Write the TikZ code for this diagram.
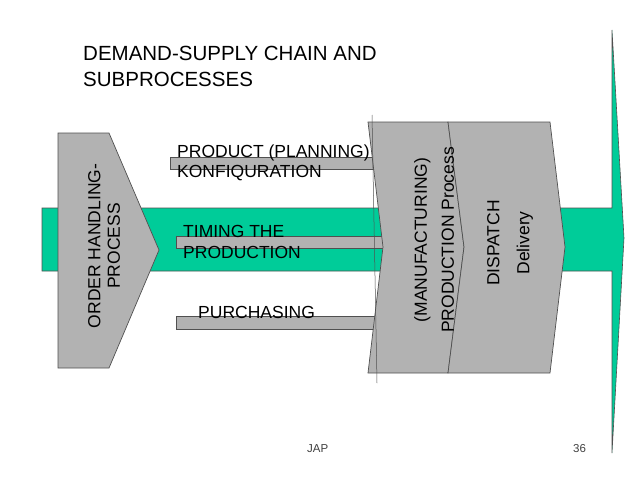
\documentclass[tikz,border=0pt]{standalone}
\usepackage{fontspec}
\setmainfont{Liberation Sans}
\usetikzlibrary{positioning}
\definecolor{flowgreen}{HTML}{00CC99}
\definecolor{procgray}{HTML}{B2B2B2}
\definecolor{edgegray}{HTML}{505050}
\tikzset{
    procbox/.style={fill=procgray, draw=edgegray, line width=0.7pt},
    barbox/.style={fill=procgray, draw=edgegray, line width=0.6pt},
    flowarrow/.style={fill=flowgreen, draw=edgegray, line width=0.6pt},
    lbl/.style={inner sep=0pt, font=\fontsize{17.5}{19.5}\selectfont, align=left},
    vlbl/.style={inner sep=0pt, rotate=90, align=center}
}
\begin{document}
\begin{tikzpicture}[x=1pt, y=-1pt]
                    \useasboundingbox (0, 0) rectangle (640, 480);
                    % main flow
                    \draw[flowarrow] (42, 208) -- (612, 208) -- (612, 30) -- (624, 238)
                        -- (612, 453) -- (612, 271) -- (42, 271) -- cycle;
                    % sub-process bars
                    \draw[barbox] (170, 157) rectangle (385, 169);
                    \draw[barbox] (176, 236) rectangle (385, 248);
                    \draw[barbox] (176, 316) rectangle (385, 329);
                    \node[lbl, anchor=base west] (product) at (177, 177) {PRODUCT (PLANNING)\\KONFIQURATION};
                    \node[lbl, anchor=base west, font=\fontsize{17.5}{20.5}\selectfont] (timing) at (183, 258) {TIMING THE\\PRODUCTION};
                    \node[lbl, anchor=base west] (purchasing) at (198, 318) {PURCHASING};
                    % order handling
                    \draw[procbox] (58, 133) -- (109, 133) -- (159, 250) -- (109, 368) -- (58, 368) -- cycle;
                    \node[vlbl, font=\fontsize{17.5}{19.5}\selectfont] (order) at (104, 246) {ORDER HANDLING-\\PROCESS};
                    % manufacturing and dispatch
                    \draw[procbox] (368, 122) -- (448, 122) -- (464, 247) -- (448, 373) -- (368, 373) -- (383, 247) -- cycle;
                    \draw[procbox] (448, 122) -- (550, 122) -- (565, 247) -- (550, 373) -- (448, 373) -- (464, 247) -- cycle;
                    \draw[edgegray, line width=0.5pt] (372, 115) -- (377, 383);
                    \node[vlbl, font=\fontsize{17.5}{27}\selectfont] (manuf) at (434, 240) {(MANUFACTURING)\\PRODUCTION Process};
                    \node[vlbl, font=\fontsize{17.5}{30}\selectfont] (dispatch) at (510, 243) {DISPATCH\\Delivery};
                    % title and footer
                    \node[inner sep=0pt, anchor=base west, align=left, font=\fontsize{20.5}{26}\selectfont] (title) at (83, 86) {DEMAND-SUPPLY CHAIN AND\\SUBPROCESSES};
                    \node[inner sep=0pt, anchor=base west, text=black!75, font=\fontsize{11.5}{13}\selectfont] (author) at (307, 452) {JAP};
                    \node[inner sep=0pt, anchor=base west, text=black!75, font=\fontsize{11.5}{13}\selectfont] (pagenum) at (573, 452) {36};
                \end{tikzpicture}
\end{document}
